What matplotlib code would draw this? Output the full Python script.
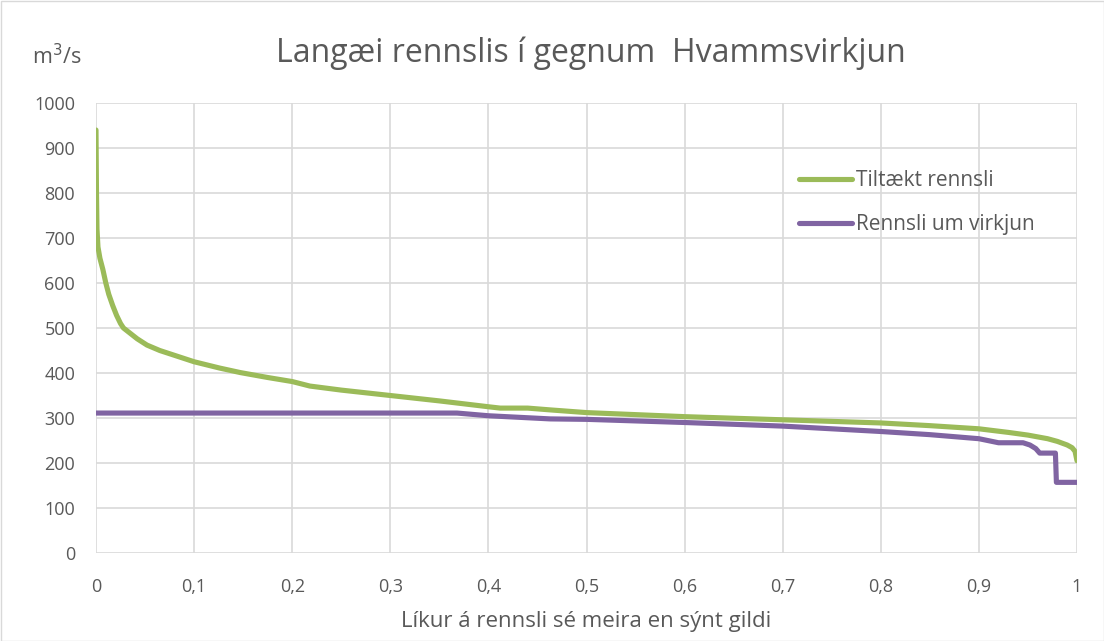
import matplotlib
matplotlib.use("Agg")
import matplotlib.pyplot as plt
from matplotlib.patches import Rectangle

# Data (probability of exceedance, flow m3/s)
p_green = [0.0, 0.0005, 0.001, 0.002, 0.004, 0.007, 0.01, 0.013, 0.017, 0.021, 0.025, 0.028,
           0.035, 0.042, 0.052, 0.065, 0.079, 0.1, 0.126, 0.147, 0.175, 0.2, 0.218, 0.25,
           0.3, 0.35, 0.4, 0.412, 0.44, 0.463, 0.5, 0.6, 0.7, 0.8, 0.85, 0.9, 0.93, 0.95,
           0.97, 0.98, 0.99, 0.995, 0.998, 1.0]
q_green = [940, 800, 720, 680, 655, 630, 600, 575, 550, 528, 510, 500,
           488, 476, 462, 450, 440, 425, 411, 401, 390, 381, 371, 362,
           350, 338, 325, 322, 322, 318, 312, 303, 296, 289, 283, 276, 268, 262,
           254, 248, 240, 234, 226, 205]

p_purple = [0.0, 0.368, 0.4, 0.463, 0.5, 0.6, 0.7, 0.75, 0.8, 0.85, 0.9, 0.92,
            0.945, 0.952, 0.958, 0.962, 0.978, 0.979, 1.0]
q_purple = [311, 311, 305, 298, 297, 290, 282, 276, 270, 263, 254, 245,
            245, 240, 232, 222, 222, 157, 157]

title = "Langæi rennslis í gegnum  Hvammsvirkjun"
xlabel = "Líkur á rennsli sé meira en sýnt gildi"
ylabel = "m$^3$/s"
legend_labels = ["Tiltækt rennsli", "Rennsli um virkjun"]
xticks = [0, 0.1, 0.2, 0.3, 0.4, 0.5, 0.6, 0.7, 0.8, 0.9, 1.0]
xticklabels = ["0", "0,1", "0,2", "0,3", "0,4", "0,5", "0,6", "0,7", "0,8", "0,9", "1"]
yticks = list(range(0, 1001, 100))

plt.rcParams['font.family'] = ['Open Sans', 'DejaVu Sans']
text_color = "#595959"

fig = plt.figure(figsize=(11.04, 6.41), dpi=100)
ax = fig.add_axes([96/1104, 1-553/641, (1077-96)/1104, (553-103)/641])

ax.plot(p_green, q_green, color="#9BBB59", lw=3.7, solid_capstyle="round",
        solid_joinstyle="round", label=legend_labels[0], zorder=3)
ax.plot(p_purple, q_purple, color="#8064A2", lw=3.7, solid_capstyle="round",
        solid_joinstyle="round", label=legend_labels[1], zorder=3)

ax.set_xlim(0, 1)
ax.set_ylim(0, 1000)
ax.set_xticks(xticks)
ax.set_xticklabels(xticklabels)
ax.set_yticks(yticks)
ax.grid(True, color="#d9d9d9", lw=1.2)
ax.set_axisbelow(True)
for s in ax.spines.values():
    s.set_visible(False)
ax.tick_params(axis="y", length=0, labelsize=13, colors=text_color, pad=15)
ax.tick_params(axis="x", length=0, labelsize=13, colors=text_color, pad=18)

ax.set_xlabel(xlabel, fontsize=16, color=text_color, labelpad=11)
fig.text(57/1104, 1-57/641, ylabel, fontsize=15.5, color=text_color, ha="center", va="center")
fig.text(591/1104, 1-53/641, title, fontsize=23, color=text_color, ha="center", va="center")

leg = ax.legend(loc="upper left", bbox_to_anchor=(0.698, 0.893), frameon=False,
                fontsize=15, labelcolor=text_color, handlelength=2.5,
                labelspacing=1.1, handletextpad=0.2)

fig.patches.append(Rectangle((0.5/1104, 0.5/641), 1-1/1104, 1-1/641, transform=fig.transFigure,
                             fill=False, edgecolor="#d9d9d9", lw=1.0))

fig.savefig("out.png", dpi=100)
